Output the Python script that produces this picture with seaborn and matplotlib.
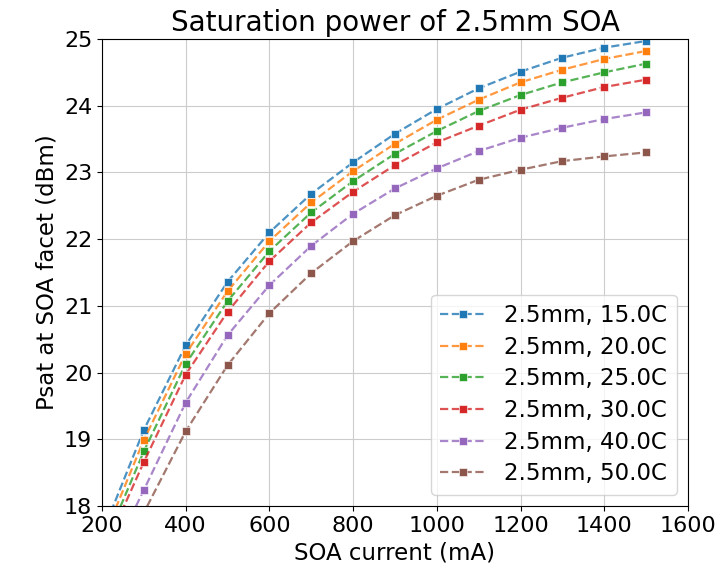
import matplotlib
matplotlib.use("Agg")
import matplotlib.pyplot as plt
import seaborn as sns
import pandas as pd

current = [200, 300, 400, 500, 600, 700, 800, 900, 1000, 1100, 1200, 1300, 1400, 1500]
p15 = [17.58, 19.14, 20.41, 21.36, 22.10, 22.68, 23.15, 23.58, 23.95, 24.26, 24.51, 24.72, 24.87, 24.97]
p20 = [17.47, 18.99, 20.28, 21.22, 21.97, 22.55, 23.02, 23.43, 23.79, 24.09, 24.35, 24.54, 24.70, 24.82]
p25 = [17.34, 18.82, 20.13, 21.07, 21.82, 22.40, 22.87, 23.28, 23.62, 23.92, 24.16, 24.35, 24.50, 24.63]
p30 = [17.26, 18.66, 19.97, 20.91, 21.67, 22.25, 22.71, 23.11, 23.45, 23.70, 23.94, 24.12, 24.28, 24.39]
p40 = [16.95, 18.24, 19.55, 20.56, 21.31, 21.90, 22.38, 22.76, 23.06, 23.32, 23.52, 23.67, 23.80, 23.90]
p50 = [16.60, 17.90, 19.12, 20.11, 20.89, 21.49, 21.97, 22.36, 22.65, 22.89, 23.04, 23.17, 23.24, 23.30]
labels = ["2.5mm, 15.0C", "2.5mm, 20.0C", "2.5mm, 25.0C", "2.5mm, 30.0C", "2.5mm, 40.0C", "2.5mm, 50.0C"]
series = [p15, p20, p25, p30, p40, p50]

plt.rcParams["font.size"] = 16.5

fig, ax = plt.subplots(figsize=(7.28, 5.69), dpi=100)
fig.subplots_adjust(left=0.1401, right=0.945, top=0.9315, bottom=0.1107)
colors = sns.color_palette("tab10", 6)
for lab, vals, c in zip(labels, series, colors):
    df = pd.DataFrame({"x": current, "y": vals})
    sns.lineplot(data=df, x="x", y="y", ax=ax, color=c, linestyle="--",
                 marker="s", markersize=6, linewidth=1.6, label=lab)

for line, c in zip(ax.lines, colors):
    line.set_color((*c, 0.8))
    line.set_markerfacecolor(c)
    line.set_markeredgecolor((1, 1, 1, 0.6))

ax.set_xlim(200, 1600)
ax.set_ylim(18, 25)
ax.grid(True, color="#cccccc")
ax.set_title("Saturation power of 2.5mm SOA", fontsize=20)
ax.set_xlabel("SOA current (mA)", fontsize=16.5)
ax.set_ylabel("Psat at SOA facet (dBm)", fontsize=16.5)
ax.tick_params(labelsize=16)
ax.legend(loc="lower right", fontsize=16.5, labelspacing=0.38)
fig.savefig("out.png", dpi=100)
